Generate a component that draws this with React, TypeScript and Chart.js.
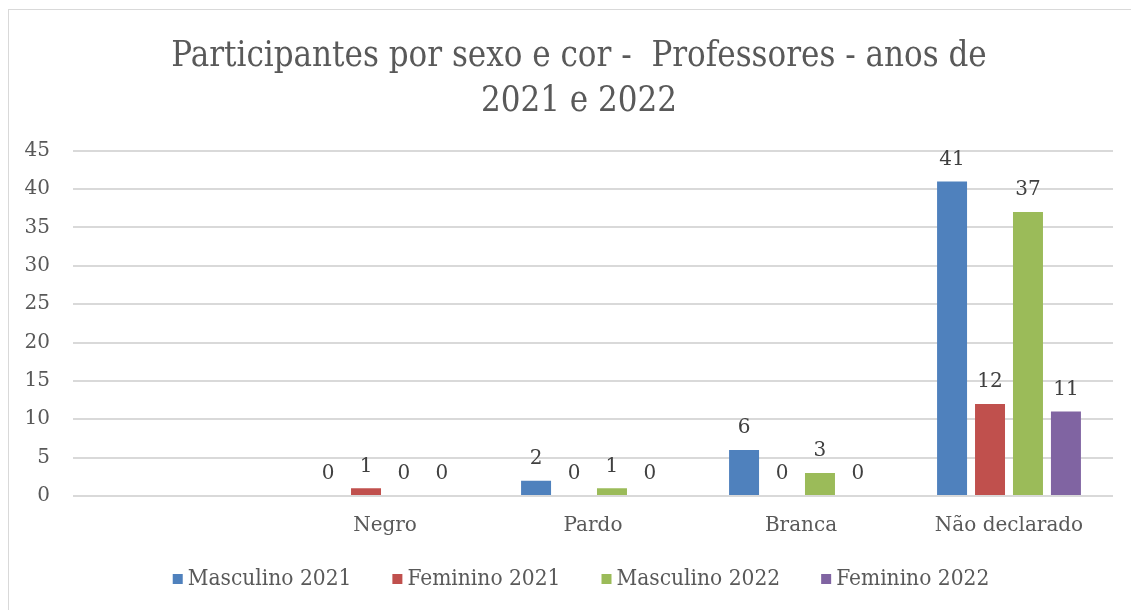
import React, { useEffect, useRef } from "react";
import { Chart, registerables } from "chart.js";

Chart.register(...registerables);

const categories = ["", "Negro", "Pardo", "Branca", "Não declarado"];
const masculino2021 = [null, 0, 2, 6, 41];
const feminino2021 = [null, 1, 0, 0, 12];
const masculino2022 = [null, 0, 1, 3, 37];
const feminino2022 = [null, 0, 0, 0, 11];
const seriesNames = ["Masculino 2021", "Feminino 2021", "Masculino 2022", "Feminino 2022"];
const seriesColors = ["#4F81BD", "#C0504D", "#9BBB59", "#8064A2"];
const titleLines = ["Participantes por sexo e cor -  Professores - anos de", "2021 e 2022"];

const SERIF = "'DejaVu Serif', 'Liberation Serif', serif";
const COND = "'DejaVu Serif Condensed', 'Liberation Serif', serif";

const valueLabels = {
  id: "valueLabels",
  afterDatasetsDraw(chart: any) {
    const ctx = chart.ctx;
    ctx.save();
    ctx.font = `20px ${SERIF}`;
    ctx.fillStyle = "#404040";
    ctx.textAlign = "center";
    ctx.textBaseline = "bottom";
    chart.data.datasets.forEach((ds: any, i: number) => {
      const meta = chart.getDatasetMeta(i);
      meta.data.forEach((bar: any, j: number) => {
        const v = ds.data[j];
        if (v === null || v === undefined) return;
        ctx.fillText(String(v), bar.x, bar.y - 12);
      });
    });
    ctx.restore();
  },
};

const bottomLegend = {
  id: "bottomLegend",
  afterDraw(chart: any) {
    const ctx = chart.ctx;
    ctx.save();
    ctx.font = `22.5px ${COND}`;
    ctx.textBaseline = "middle";
    ctx.textAlign = "left";
    const box = 10;
    const gapText = 5;
    const gapItem = 41;
    const items = chart.data.datasets.map((ds: any) => ({
      text: ds.label,
      color: ds.backgroundColor,
      w: box + gapText + ctx.measureText(ds.label).width,
    }));
    const total = items.reduce((s: number, it: any) => s + it.w, 0) + gapItem * (items.length - 1);
    let x = chart.width / 2 - total / 2 + 2;
    const y = 569;
    items.forEach((it: any) => {
      ctx.fillStyle = it.color;
      ctx.fillRect(x, y - box / 2, box, box);
      ctx.fillStyle = "#595959";
      ctx.fillText(it.text, x + box + gapText, y);
      x += it.w + gapItem;
    });
    ctx.restore();
  },
};

export default function App() {
  const ref = useRef<HTMLCanvasElement>(null);
  useEffect(() => {
    const seriesData = [masculino2021, feminino2021, masculino2022, feminino2022];
    const chart = new Chart(ref.current!, {
      type: "bar",
      data: {
        labels: categories,
        datasets: seriesData.map((d, i) => ({
          label: seriesNames[i],
          data: d,
          backgroundColor: seriesColors[i],
          borderWidth: 0,
          barPercentage: 0.79,
          categoryPercentage: 0.73,
        })),
      },
      options: {
        animation: false,
        responsive: false,
        maintainAspectRatio: false,
        layout: { padding: { left: 0, right: 0, top: 0, bottom: 54 } },
        plugins: {
          tooltip: { enabled: false },
          legend: { display: false },
          title: {
            display: true,
            text: titleLines,
            color: "#595959",
            font: { family: COND, size: 34.5, weight: "normal", lineHeight: 1.3 },
            padding: { top: 25, bottom: 26 },
          },
        },
        scales: {
          x: {
            grid: { display: false, drawTicks: false },
            border: { display: false },
            ticks: { color: "#595959", font: { family: SERIF, size: 20 }, padding: 18, maxRotation: 0, autoSkip: false },
          },
          y: {
            min: 0,
            max: 45,
            afterFit(scale: any) {
              scale.width = 64;
            },
            grid: { color: "#D9D9D9", lineWidth: 2, drawTicks: false },
            border: { display: false },
            ticks: { stepSize: 5, color: "#595959", font: { family: SERIF, size: 20 }, padding: 23 },
          },
          y2: {
            type: "linear",
            axis: "y",
            position: "right",
            min: 0,
            max: 45,
            grid: { display: false, drawTicks: false },
            border: { display: false },
            ticks: { display: false },
            afterFit(scale: any) {
              scale.width = 36;
            },
          },
        },
      },
      plugins: [valueLabels, bottomLegend],
    });
    return () => chart.destroy();
  }, []);
  return (
    <div
      style={{
        position: "fixed",
        left: 8,
        top: 9,
        width: 1140,
        height: 620,
        border: "1px solid #D9D9D9",
        background: "#fff",
      }}
    >
      <canvas ref={ref} width={1140} height={600} />
    </div>
  );
}
